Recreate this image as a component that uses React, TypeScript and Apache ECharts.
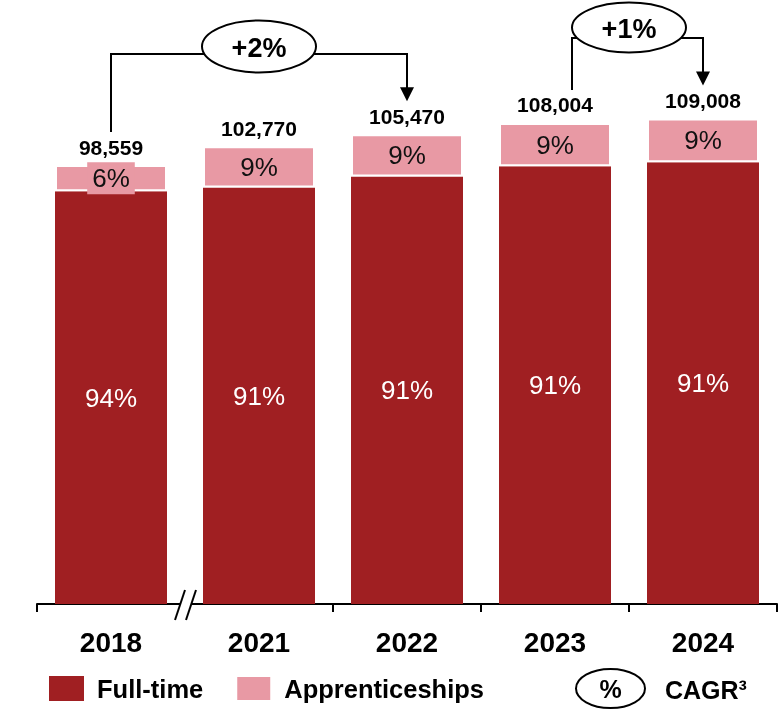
import React, { useEffect, useRef } from "react";
import * as echarts from "echarts";

const years = ["2018", "2021", "2022", "2023", "2024"];
const totals = [98559, 102770, 105470, 108004, 109008];
const fullTimeShare = [94, 91, 91, 91, 91];
const apprenticeShare = [6, 9, 9, 9, 9];
const cagrLabels = ["+2%", "+1%"];
const cagrSpans = [
  [0, 2],
  [3, 4],
];

const RED = "#A01F22";
const PINK = "#E899A4";
const FONT = "'Liberation Sans', Arial, Helvetica, sans-serif";

export default function App() {
  const ref = useRef<HTMLDivElement>(null);

  useEffect(() => {
    if (!ref.current) return;
    const chart = echarts.init(ref.current, null, { renderer: "svg" });

    const fullTime = totals.map((t, i) => Math.round((t * fullTimeShare[i]) / 100));
    const apprentices = totals.map((t, i) => t - fullTime[i]);

    chart.setOption({
      animation: false,
      textStyle: { fontFamily: FONT },
      grid: { left: 37, right: 5, top: 25, bottom: 109 },
      legend: {
        data: ["Full-time", "Apprenticeships"],
        left: 49,
        top: 675,
        padding: 0,
        icon: "rect",
        itemWidth: 35,
        itemHeight: 25,
        itemGap: 32,
        selectedMode: false,
        textStyle: {
          fontFamily: FONT,
          fontSize: 25.5,
          fontWeight: "bold",
          color: "#000",
          padding: [0, 0, 0, 8],
        },
      },
      xAxis: {
        type: "category",
        data: years,
        axisLine: { lineStyle: { color: "#000", width: 2 } },
        axisTick: { show: true, length: 8, lineStyle: { color: "#000", width: 2 } },
        axisLabel: {
          interval: 0,
          margin: 24,
          fontSize: 28,
          fontWeight: "bold",
          color: "#000",
          fontFamily: FONT,
        },
      },
      yAxis: { type: "value", min: 0, max: 130000, show: false },
      series: [
        {
          name: "Full-time",
          type: "bar",
          stack: "a",
          barWidth: 112,
          data: fullTime,
          itemStyle: { color: RED },
          label: {
            show: true,
            position: "inside",
            color: "#fff",
            fontSize: 26,
            fontFamily: FONT,
            formatter: (p: any) => fullTimeShare[p.dataIndex] + "%",
          },
        },
        {
          name: "Apprenticeships",
          type: "bar",
          stack: "a",
          barWidth: 112,
          data: apprentices.map((v, i) =>
            i === 0
              ? {
                  value: v,
                  label: { backgroundColor: PINK, padding: [3, 5] },
                }
              : v
          ),
          itemStyle: { color: PINK, borderColor: "#fff", borderWidth: 2 },
          label: {
            show: true,
            position: "inside",
            color: "#111",
            fontSize: 26,
            fontFamily: FONT,
            formatter: (p: any) => apprenticeShare[p.dataIndex] + "%",
          },
        },
        {
          name: "Total",
          type: "scatter",
          data: totals,
          symbol: "circle",
          symbolSize: 1,
          itemStyle: { color: "rgba(0,0,0,0)" },
          silent: true,
          z: 5,
          label: {
            show: true,
            position: "top",
            distance: 7,
            color: "#000",
            opacity: 1,
            fontSize: 21,
            fontWeight: "bold",
            fontFamily: FONT,
            formatter: (p: any) => Number(p.value).toLocaleString("en-US"),
          },
        },
      ],
    });

    const px = (i: number) =>
      chart.convertToPixel({ gridIndex: 0 }, [i, totals[i]]) as number[];

    const graphics: any[] = [];
    const levels = [54, 38];
    const ellY = [46.5, 27.5];
    const ellR = [26, 25];
    const startOffset = [0, 17];
    cagrSpans.forEach(([a, b], k) => {
      const pa = px(a);
      const pb = px(b);
      const xa = pa[0] + startOffset[k];
      const xb = pb[0];
      const ya = pa[1] - 33;
      const tip = pb[1] - 33;
      const lvl = levels[k];
      const cx = (pa[0] + pb[0]) / 2;
      graphics.push({
        type: "polyline",
        z: 100,
        shape: {
          points: [
            [xa, ya],
            [xa, lvl],
            [xb, lvl],
            [xb, tip - 13],
          ],
        },
        style: { stroke: "#000", lineWidth: 2, fill: null },
      });
      graphics.push({
        type: "polygon",
        z: 100,
        shape: {
          points: [
            [xb - 7, tip - 14],
            [xb + 7, tip - 14],
            [xb, tip],
          ],
        },
        style: { fill: "#000" },
      });
      graphics.push({
        type: "ellipse",
        z: 101,
        shape: { cx, cy: ellY[k], rx: 57, ry: ellR[k] },
        style: { fill: "#fff", stroke: "#000", lineWidth: 2 },
      });
      graphics.push({
        type: "text",
        z: 102,
        x: cx,
        y: ellY[k] + 1,
        style: {
          text: cagrLabels[k],
          fontSize: 27,
          fontWeight: "bold",
          fontFamily: FONT,
          fill: "#000",
          align: "center",
          verticalAlign: "middle",
          textAlign: "center",
          textVerticalAlign: "middle",
        },
      });
    });

    // axis break marker between first and second category
    graphics.push({
      type: "rect",
      z: 100,
      shape: { x: 180, y: 600, width: 11, height: 16 },
      style: { fill: "#fff" },
    });
    graphics.push({
      type: "line",
      z: 101,
      shape: { x1: 175, y1: 620, x2: 185, y2: 590 },
      style: { stroke: "#000", lineWidth: 2 },
    });
    graphics.push({
      type: "line",
      z: 101,
      shape: { x1: 186, y1: 620, x2: 196, y2: 590 },
      style: { stroke: "#000", lineWidth: 2 },
    });

    // CAGR legend
    graphics.push({
      type: "ellipse",
      z: 100,
      shape: { cx: 610.5, cy: 688.5, rx: 34.5, ry: 19.5 },
      style: { fill: "#fff", stroke: "#000", lineWidth: 2 },
    });
    graphics.push({
      type: "text",
      z: 101,
      x: 610.5,
      y: 689,
      style: {
        text: "%",
        fontSize: 25,
        fontWeight: "bold",
        fontFamily: FONT,
        fill: "#000",
        align: "center",
        verticalAlign: "middle",
        textAlign: "center",
        textVerticalAlign: "middle",
      },
    });
    graphics.push({
      type: "text",
      z: 101,
      x: 665,
      y: 690,
      style: {
        text: "CAGR³",
        fontSize: 25,
        fontWeight: "bold",
        fontFamily: FONT,
        fill: "#000",
        align: "left",
        verticalAlign: "middle",
        textAlign: "left",
        textVerticalAlign: "middle",
      },
    });

    chart.setOption({ graphic: graphics });

    return () => chart.dispose();
  }, []);

  return (
    <div
      ref={ref}
      style={{ position: "fixed", left: 0, top: 0, width: 782, height: 713 }}
    />
  );
}
